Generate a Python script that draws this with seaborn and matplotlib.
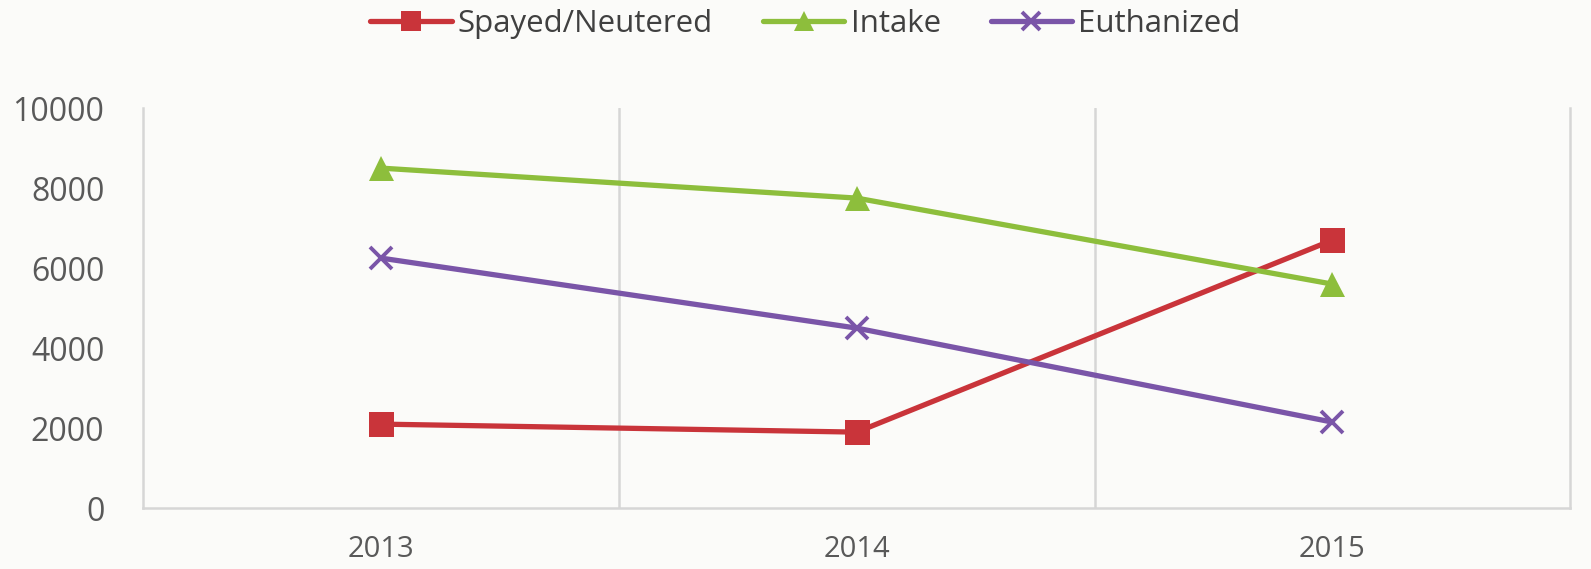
import pandas as pd
import matplotlib.pyplot as plt
import seaborn as sns

years = ["2013", "2014", "2015"]
spayed = [2100, 1900, 6700]
intake = [8500, 7750, 5600]
euthanized = [6250, 4500, 2150]

series = {
    "Spayed/Neutered": (spayed, "#C9343A", "s"),
    "Intake": (intake, "#8DBE3C", "^"),
    "Euthanized": (euthanized, "#7A55A8", "x"),
}

sns.set_style("white")
plt.rcParams["font.family"] = ["Open Sans", "DejaVu Sans"]

fig = plt.figure(figsize=(15.91, 5.69), dpi=100, facecolor="#FBFBF9")
ax = fig.add_axes([0.09, 0.107, 0.897, 0.703])
ax.set_facecolor("#FBFBF9")

for name, (vals, color, mk) in series.items():
    df = pd.DataFrame({"Year": years, "Count": vals})
    sns.lineplot(
        data=df,
        x="Year",
        y="Count",
        color=color,
        marker=mk,
        markersize=18 if mk != "x" else 16,
        markeredgewidth=2.8 if mk == "x" else 0,
        markeredgecolor=color,
        linewidth=3.8,
        label=name,
        ax=ax,
    )

ax.set_xlim(-0.5, 2.5)
ax.set_ylim(0, 10000)
ax.set_yticks(range(0, 10001, 2000))
for xv in [0.5, 1.5]:
    ax.axvline(xv, color="#D6D6D6", linewidth=1.8, zorder=0)

for side in ["left", "bottom", "right"]:
    ax.spines[side].set_color("#D6D6D6")
    ax.spines[side].set_linewidth(1.8)
ax.spines["top"].set_visible(False)

ax.tick_params(axis="y", labelsize=23, labelcolor="#595959", length=0, pad=28)
ax.tick_params(axis="x", labelsize=21, labelcolor="#595959", length=0, pad=19)
ax.set_xlabel("")
ax.set_ylabel("")

handles, labels = ax.get_legend_handles_labels()
ax.legend(
    handles,
    labels,
    loc="center",
    bbox_to_anchor=(0.464, 1.21),
    ncol=3,
    frameon=False,
    fontsize=22.5,
    labelcolor="#404040",
    handlelength=2.6,
    handletextpad=0.2,
    columnspacing=1.6,
    markerscale=0.8,
)

plt.savefig("out.png", dpi=100, facecolor=fig.get_facecolor())
